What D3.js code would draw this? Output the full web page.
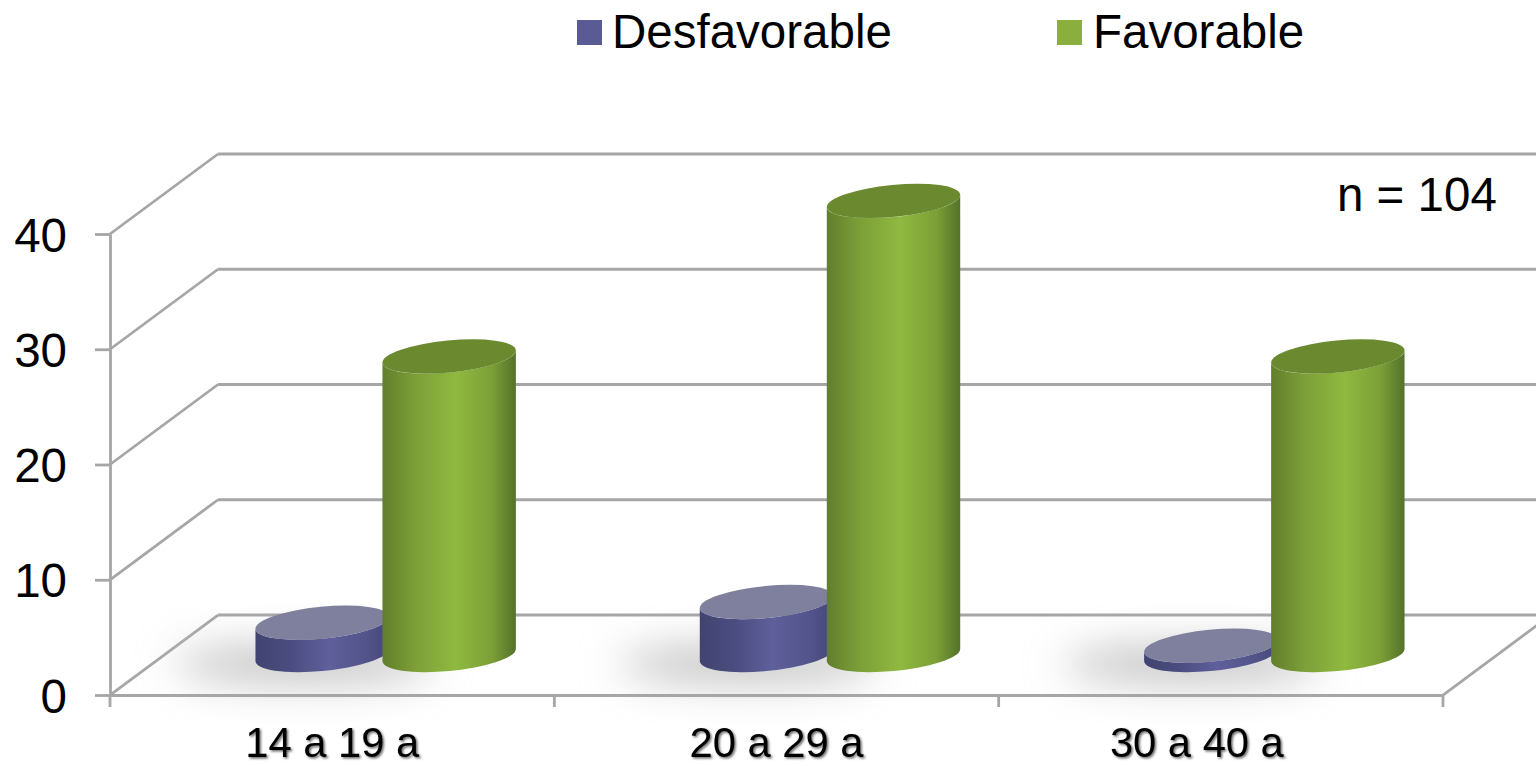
<!DOCTYPE html>
<html>
<head>
<meta charset="utf-8">
<script src="https://cdn.jsdelivr.net/npm/d3@7"></script>
<style>
  html, body { margin: 0; padding: 0; background: #fff; overflow: hidden; }
  svg { display: block; font-family: "Liberation Sans", Arial, sans-serif; }
</style>
</head>
<body>
<svg id="chart" width="1536" height="766"></svg>
<script>
// Respondent counts by age group, 3D cylinder column chart
const categories = ["14 a 19 a", "20 a 29 a", "30 a 40 a"];
const seriesNames = ["Desfavorable", "Favorable"];
const desfavorable = [2.8, 4.6, 0.8];
const favorable = [25.9, 39.4, 25.9];
const yTicks = [0, 10, 20, 30, 40];
const sampleNote = "n = 104";

const svg = d3.select("#chart");
const depthX = 108, depthY = 80;          // oblique offset from front plane to back wall
const rx = 67, ry = 16, tilt = -5.5;      // cylinder cap ellipse
const tiltRad = tilt * Math.PI / 180;

const x = d3.scaleBand().domain(categories).range([110, 1443]);
const xSeries = d3.scaleBand().domain(seriesNames).range([-127, 127]).paddingInner(0).paddingOuter(0);
const y = d3.scaleLinear().domain([0, 40]).range([695, 234]);

const seriesColors = {
  Desfavorable: { top: "#7f7f9e", legend: "#5a5a94",
    stops: ["#41446f", "#4a4c7f", "#5f5f9b", "#52548b", "#45477b"] },
  Favorable: { top: "#6b8a30", legend: "#8aaf3e",
    stops: ["#617f2b", "#7d9f38", "#8fb93f", "#7c9f37", "#55722a"] }
};
const stopOffsets = [0, 0.25, 0.55, 0.82, 1];

const defs = svg.append("defs");
seriesNames.forEach((name, i) => {
  const g = defs.append("linearGradient").attr("id", "side" + i);
  seriesColors[name].stops.forEach((c, k) =>
    g.append("stop").attr("offset", stopOffsets[k]).attr("stop-color", c));
});
defs.append("filter").attr("id", "floorShadow")
  .attr("x", "-40%").attr("y", "-100%").attr("width", "180%").attr("height", "300%")
  .append("feGaussianBlur").attr("stdDeviation", 20);
defs.append("filter").attr("id", "labelShadow")
  .attr("x", "-5%").attr("y", "-10%").attr("width", "110%").attr("height", "130%")
  .append("feDropShadow")
  .attr("dx", 1.5).attr("dy", 1.5).attr("stdDeviation", 1)
  .attr("flood-color", "#000").attr("flood-opacity", 0.6);

const gridColor = "#a6a6a6";
const gridWidth = 2.8;
const grid = svg.append("g").attr("fill", "none").attr("stroke", gridColor).attr("stroke-width", gridWidth);

// Back wall rules and their slanted returns along the side wall
yTicks.forEach(v => {
  grid.append("line").attr("x1", 110 + depthX).attr("x2", 1536)
    .attr("y1", y(v) - depthY).attr("y2", y(v) - depthY);
  grid.append("line").attr("x1", 110).attr("x2", 110 + depthX)
    .attr("y1", y(v)).attr("y2", y(v) - depthY);
});
// Floor edge on the right
grid.append("line").attr("x1", x.range()[1]).attr("y1", y(0))
  .attr("x2", x.range()[1] + depthX).attr("y2", y(0) - depthY);

// Soft floor shadow under each group
svg.append("g").selectAll("ellipse").data(categories).join("ellipse")
  .attr("cx", d => x(d) + x.bandwidth() / 2 + depthX / 2 - 82)
  .attr("cy", y(0) - depthY / 2 + 9)
  .attr("rx", 130).attr("ry", 20)
  .attr("fill", "#c4c4c4")
  .attr("filter", "url(#floorShadow)");

// Y axis
const yAxis = svg.append("g").attr("transform", "translate(110,0)")
  .call(d3.axisLeft(y).tickValues(yTicks).tickSize(15).tickPadding(28).tickSizeOuter(0));
yAxis.select(".domain").attr("stroke", gridColor).attr("stroke-width", gridWidth);
yAxis.selectAll(".tick line").attr("stroke", gridColor).attr("stroke-width", gridWidth);
yAxis.selectAll("text").attr("font-size", 47.5).attr("fill", "#000")
  .attr("font-family", "'Liberation Sans', Arial, sans-serif")
  .attr("transform", "translate(0,2)");

// X axis: labels centred on each band, ticks on the band boundaries
const xAxis = svg.append("g").attr("transform", `translate(0,${y(0)})`)
  .call(d3.axisBottom(x).tickSize(0).tickPadding(32.5));
xAxis.select(".domain").attr("stroke", gridColor).attr("stroke-width", gridWidth);
xAxis.selectAll("text").attr("font-size", 41.7).attr("fill", "#000")
  .attr("font-family", "'Liberation Sans', Arial, sans-serif")
  .attr("filter", "url(#labelShadow)");
// The last label sits left of its band centre
xAxis.selectAll("text").filter(d => d === categories[categories.length - 1]).attr("dx", -24);
const boundaries = categories.map(c => x(c)).concat(x.range()[1]);
svg.append("g").selectAll("line").data(boundaries).join("line")
  .attr("x1", d => d).attr("x2", d => d)
  .attr("y1", y(0)).attr("y2", y(0) + 12)
  .attr("stroke", gridColor).attr("stroke-width", gridWidth);

// Cylinders sit at mid-depth on the floor; the sides meet each cap at its vertical tangents
const sinT = Math.sin(tiltRad), cosT = Math.cos(tiltRad);
const tipX = Math.sqrt(rx * rx * cosT * cosT + ry * ry * sinT * sinT);
const tipY = (rx * rx - ry * ry) * sinT * cosT / tipX;
function bodyPath(cx, yBase, yTop) {
  return `M${cx - tipX},${yTop - tipY}` +
    `L${cx - tipX},${yBase - tipY}` +
    `A${rx},${ry} ${tilt} 0 0 ${cx + tipX},${yBase + tipY}` +
    `L${cx + tipX},${yTop + tipY}` +
    `A${rx},${ry} ${tilt} 0 1 ${cx - tipX},${yTop - tipY}Z`;
}
const bars = seriesNames.flatMap((name, s) => {
  const values = s === 0 ? desfavorable : favorable;
  return categories.map((c, i) => ({ name, s, c, v: values[i] }));
});
const cyl = svg.append("g").selectAll("g").data(bars).join("g")
  .attr("transform", d => {
    const cx = x(d.c) + x.bandwidth() / 2 + depthX / 2 + xSeries(d.name) + xSeries.bandwidth() / 2 - 0.5;
    return `translate(${cx},${-depthY / 2})`;
  });
cyl.append("path")
  .attr("d", d => bodyPath(0, y(0), y(d.v)))
  .attr("fill", d => `url(#side${d.s})`);
cyl.append("ellipse")
  .attr("rx", rx).attr("ry", ry)
  .attr("transform", d => `translate(0,${y(d.v)}) rotate(${tilt})`)
  .attr("fill", d => seriesColors[d.name].top);

// Legend
const legendMarks = [
  { x: 577, w: 25, text: 612 },
  { x: 1057, w: 25, text: 1093 }
];
const legend = svg.append("g").selectAll("g").data(seriesNames).join("g");
legend.append("rect")
  .attr("x", (d, i) => legendMarks[i].x).attr("y", 20)
  .attr("width", (d, i) => legendMarks[i].w).attr("height", 25)
  .attr("fill", d => seriesColors[d].legend);
legend.append("text")
  .attr("x", (d, i) => legendMarks[i].text).attr("y", 48)
  .attr("font-size", 47.5).attr("fill", "#000").text(d => d);

// Sample size note
svg.append("text").attr("x", 1337).attr("y", 211)
  .attr("font-size", 47.5).attr("fill", "#000").text(sampleNote);
</script>
</body>
</html>
